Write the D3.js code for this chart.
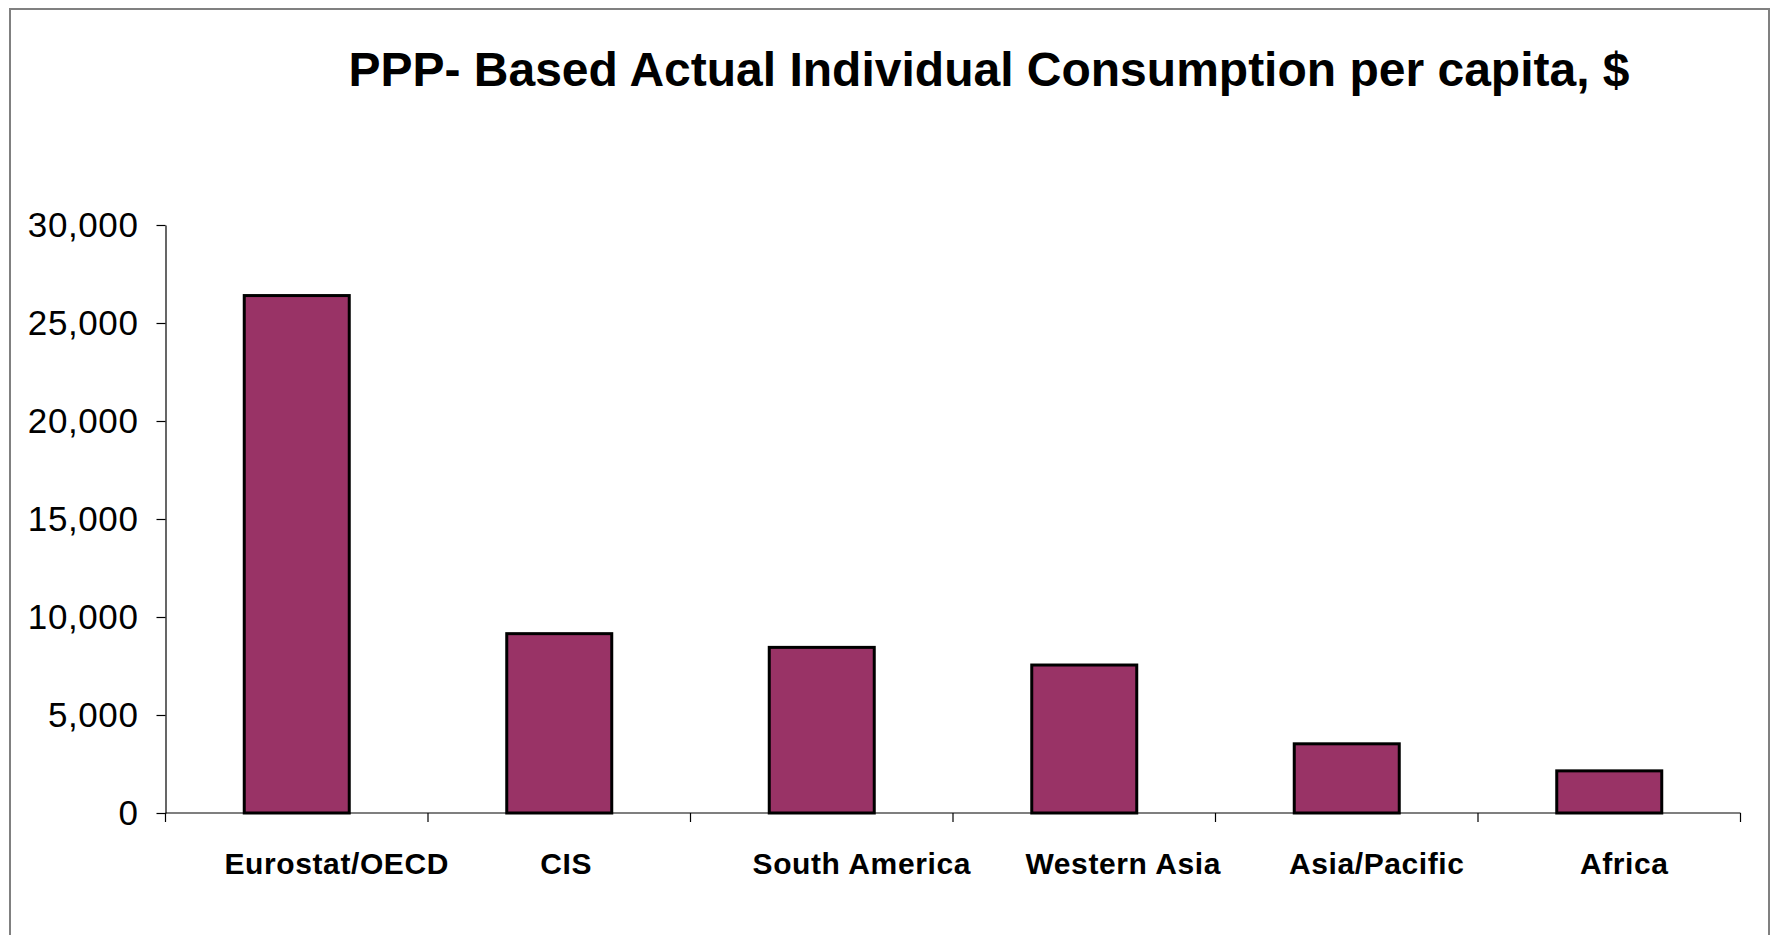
<!DOCTYPE html>
<html>
<head>
<meta charset="utf-8">
<script src="https://cdn.jsdelivr.net/npm/d3@7"></script>
<style>
  html, body { margin: 0; padding: 0; background: #ffffff; }
  svg { display: block; font-family: "Liberation Sans", Arial, Helvetica, sans-serif; }
</style>
</head>
<body>
<svg id="chart" width="1771" height="935"></svg>
<script>
// ---- data ----
const title = "PPP- Based Actual Individual Consumption per capita, $";
const categories = ["Eurostat/OECD", "CIS", "South America", "Western Asia", "Asia/Pacific", "Africa"];
const values = [26400, 9150, 8450, 7550, 3530, 2150];
const yTicks = [0, 5000, 10000, 15000, 20000, 25000, 30000];

// ---- layout (kept separate from data) ----
const labelShift = [40, 7, 40, 39, 30, 15];
const plot = { left: 165.5, right: 1740.5, top: 225, bottom: 813 };

const svg = d3.select("#chart");

// outer frame
svg.append("rect")
  .attr("x", 10).attr("y", 9)
  .attr("width", 1759).attr("height", 960)
  .attr("fill", "none").attr("stroke", "#808080").attr("stroke-width", 2);

// title
svg.append("text")
  .attr("x", 989).attr("y", 86)
  .attr("text-anchor", "middle")
  .attr("font-size", 48).attr("font-weight", "bold")
  .attr("fill", "#000")
  .text(title);

const x = d3.scaleBand()
  .domain(categories)
  .range([plot.left, plot.right])
  .paddingInner(0.6)
  .paddingOuter(0.3);

const y = d3.scaleLinear()
  .domain([0, 30000])
  .range([plot.bottom, plot.top]);

// y axis
const yAxis = d3.axisLeft(y)
  .tickValues(yTicks)
  .tickFormat(d3.format(","))
  .tickSize(9)
  .tickSizeOuter(0)
  .tickPadding(18);

const gy = svg.append("g")
  .attr("transform", `translate(${plot.left},0)`)
  .call(yAxis);
gy.select(".domain").attr("stroke", "#000").attr("stroke-width", 1.2);
gy.selectAll(".tick line").attr("stroke", "#000").attr("stroke-width", 1.2);
gy.selectAll(".tick text")
  .attr("font-size", 35)
  .attr("font-family", "'Liberation Sans', Arial, sans-serif")
  .attr("letter-spacing", 0.6)
  .attr("fill", "#000");

// bars
svg.append("g").selectAll("rect")
  .data(categories.map((c, i) => ({ c, v: values[i] })))
  .join("rect")
  .attr("x", d => x(d.c))
  .attr("y", d => y(d.v))
  .attr("width", x.bandwidth())
  .attr("height", d => y(0) - y(d.v))
  .attr("fill", "#993366")
  .attr("stroke", "#000")
  .attr("stroke-width", 3);

// x axis line + boundary ticks
const gx = svg.append("g");
gx.append("line")
  .attr("x1", plot.left).attr("x2", plot.right)
  .attr("y1", y(0)).attr("y2", y(0))
  .attr("stroke", "#000").attr("stroke-width", 1.2);
const bounds = d3.range(categories.length + 1).map(i => x.range()[0] + i * x.step());
gx.selectAll("line.tk")
  .data(bounds)
  .join("line")
  .attr("class", "tk")
  .attr("x1", d => d).attr("x2", d => d)
  .attr("y1", y(0)).attr("y2", y(0) + 9)
  .attr("stroke", "#000").attr("stroke-width", 1.2);

// category labels
gx.selectAll("text")
  .data(categories)
  .join("text")
  .attr("x", (d, i) => x(d) + x.bandwidth() / 2 + labelShift[i])
  .attr("y", 874)
  .attr("text-anchor", "middle")
  .attr("font-size", 30)
  .attr("font-weight", "bold")
  .attr("letter-spacing", 0.6)
  .attr("fill", "#000")
  .text(d => d);
</script>
</body>
</html>
